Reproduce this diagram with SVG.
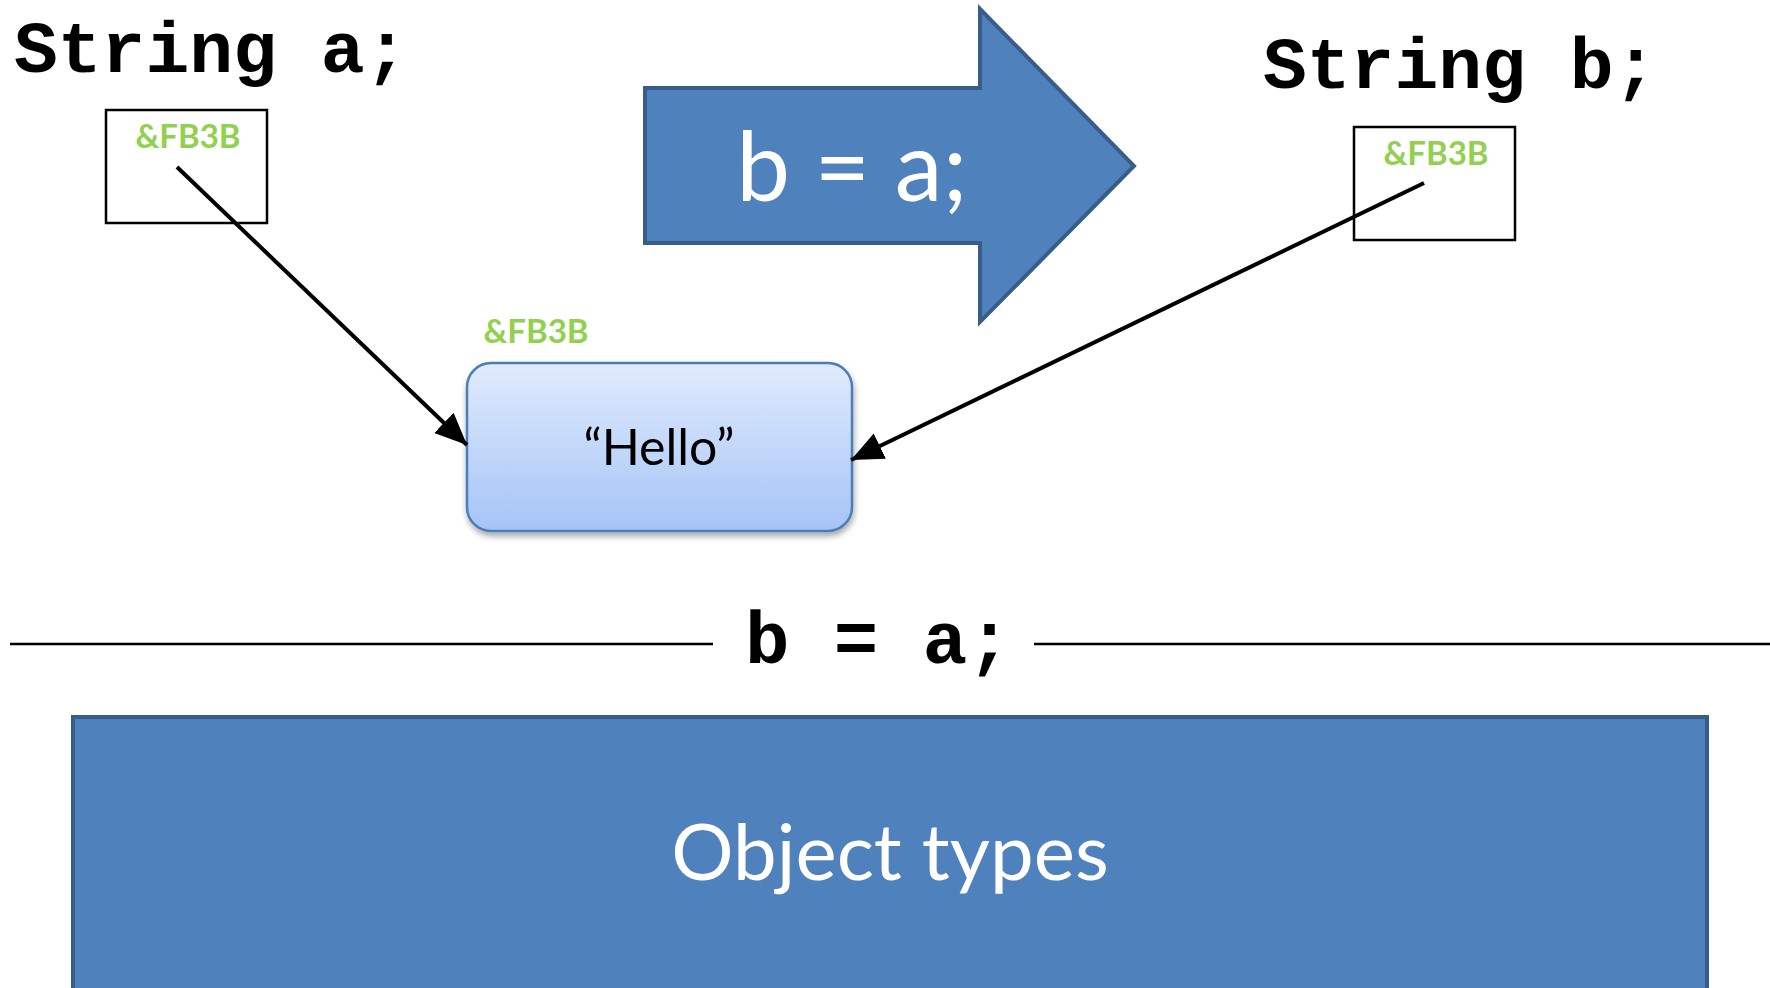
<svg xmlns="http://www.w3.org/2000/svg" width="1770" height="988" viewBox="0 0 1770 988">
  <defs>
    <style>
      .code { font-family: "Liberation Mono", "Courier New", monospace; font-weight: bold; fill: #000; }
      .addr { font-family: Lato, "Open Sans", sans-serif; font-weight: bold; font-size: 33px; fill: #92D050; text-anchor: middle; }
      .white { font-family: Lato, "Open Sans", sans-serif; fill: #fff; text-anchor: middle; }
      .var { fill: #fff; stroke: #000; stroke-width: 2.5; }
      .blue { fill: #4F81BD; stroke: #385D8A; stroke-width: 4; }
      .ptr { stroke: #000; stroke-width: 4; fill: none; marker-end: url(#head); }
    </style>
    <marker id="head" markerUnits="userSpaceOnUse" markerWidth="34" markerHeight="30" refX="32" refY="14" orient="auto">
      <path d="M0,0 L32,14 L0,28 Z" fill="#000"/>
    </marker>
    <linearGradient id="objFill" x1="0" y1="0" x2="0" y2="1">
      <stop offset="0" stop-color="#E1EBFD"/>
      <stop offset="1" stop-color="#A5C4F7"/>
    </linearGradient>
    <filter id="shadow" x="-10%" y="-10%" width="120%" height="130%">
      <feGaussianBlur in="SourceAlpha" stdDeviation="3"/>
      <feOffset dx="1" dy="4" result="b"/>
      <feComponentTransfer><feFuncA type="linear" slope="0.35"/></feComponentTransfer>
      <feMerge><feMergeNode/><feMergeNode in="SourceGraphic"/></feMerge>
    </filter>
  </defs>

  <rect width="1770" height="988" fill="#fff"/>

  <!-- variable a -->
  <g id="var-a">
    <text class="code" x="14" y="72" font-size="73">String a;</text>
    <rect class="var" x="106" y="110" width="161" height="113"/>
    <text class="addr" x="188" y="148">&amp;FB3B</text>
  </g>

  <!-- variable b -->
  <g id="var-b">
    <text class="code" x="1263" y="88" font-size="73">String b;</text>
    <rect class="var" x="1354" y="127" width="161" height="113"/>
    <text class="addr" x="1436" y="165">&amp;FB3B</text>
  </g>

  <!-- assignment arrow -->
  <g id="assign-arrow">
    <path class="blue" d="M645,88 L980,88 L980,9 L1134,166 L980,322 L980,243 L645,243 Z"/>
    <text class="white" x="852" y="201" font-size="96">b = a;</text>
  </g>

  <!-- string object on the heap -->
  <g id="hello-object">
    <text class="addr" x="536" y="343">&amp;FB3B</text>
    <rect x="467" y="363" width="385" height="168" rx="24" ry="24" fill="url(#objFill)" stroke="#4A7EBB" stroke-width="2.5" filter="url(#shadow)"/>
    <text x="659" y="465" font-family="Lato, 'Open Sans', sans-serif" font-size="50" text-anchor="middle" fill="#000">“Hello”</text>
  </g>

  <!-- references -->
  <g id="connectors">
    <line class="ptr" x1="177" y1="167" x2="467" y2="445"/>
    <line class="ptr" x1="1424" y1="183" x2="851" y2="460"/>
  </g>

  <!-- divider with caption -->
  <g id="divider">
    <line x1="10" y1="644" x2="713" y2="644" stroke="#000" stroke-width="2.5"/>
    <line x1="1034" y1="644" x2="1770" y2="644" stroke="#000" stroke-width="2.5"/>
    <text class="code" x="745" y="663" font-size="74">b = a;</text>
  </g>

  <!-- section banner -->
  <g id="banner">
    <rect class="blue" x="73" y="717" width="1634" height="300"/>
    <text class="white" x="890" y="880" font-size="78">Object types</text>
  </g>
</svg>
